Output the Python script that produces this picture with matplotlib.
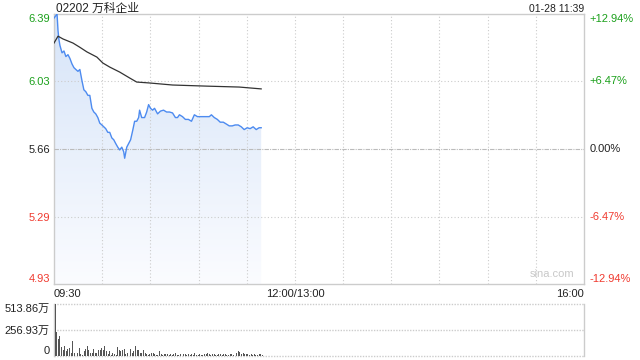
import numpy as np
import matplotlib
matplotlib.use('Agg')
import matplotlib.pyplot as plt
from matplotlib.colors import LinearSegmentedColormap

plt.rcParams['font.family'] = ['Liberation Sans', 'Noto Sans CJK SC', 'DejaVu Sans']

# --- data (trading minutes since 09:30) ---
price_t = [0, 1.9, 2.5, 3.1, 3.7, 5, 6.2, 7.4, 8.7, 9.9, 11.2, 12.4, 13.6, 14.9, 16.1, 17.4,
           18.6, 19.8, 21.1, 22.3, 23.6, 24.8, 26.0, 27.3, 28.5, 29.8, 31, 32.2, 33.5, 34.7,
           36, 37.2, 38.4, 39.7, 40.9, 42.2, 43.4, 44, 45.3, 46.5, 47.7, 49, 50.2, 51.5,
           52.7, 53.3, 54.6, 56.4, 57.7, 58.9, 60.1, 61.4, 62.6, 64.5, 66.3, 68.2, 70.1,
           71.9, 73.8, 75.6, 76.9, 78.1, 80, 81.8, 83.7, 85.6, 87.4, 89.3, 91.1, 93, 94.9,
           96.7, 98, 99.8, 101.7, 103.5, 105.4, 107.3, 109.1, 111, 112.8, 114.7, 116.6,
           118.4, 120.3, 122.1, 124, 125.9, 127.7, 129]
price = [6.368, 6.39, 6.30, 6.25, 6.22, 6.18, 6.19, 6.16, 6.17, 6.15, 6.12, 6.10, 6.09, 6.08,
         6.09, 6.03, 5.98, 5.97, 5.95, 5.95, 5.88, 5.86, 5.85, 5.83, 5.80, 5.79, 5.78, 5.77,
         5.75, 5.75, 5.72, 5.71, 5.69, 5.67, 5.655, 5.67, 5.645, 5.61, 5.67, 5.69, 5.71,
         5.76, 5.81, 5.81, 5.83, 5.87, 5.83, 5.83, 5.86, 5.90, 5.88, 5.87, 5.88, 5.85,
         5.865, 5.87, 5.86, 5.86, 5.855, 5.83, 5.83, 5.845, 5.835, 5.82, 5.82, 5.81, 5.845,
         5.835, 5.835, 5.835, 5.835, 5.835, 5.845, 5.83, 5.82, 5.805, 5.805, 5.795, 5.785,
         5.785, 5.79, 5.79, 5.78, 5.765, 5.775, 5.77, 5.78, 5.765, 5.775, 5.775]

avg_t = [0, 2.5, 5.6, 11.8, 16.1, 20.5, 26.7, 30.4, 34.7, 40.9, 47.1, 51.5, 59.5, 73.8,
         94.9, 115.3, 129]
avg_price = [6.233, 6.27, 6.255, 6.233, 6.21, 6.185, 6.157, 6.125, 6.103, 6.076, 6.044,
             6.022, 6.017, 6.006, 6.0, 5.995, 5.985]

# volume in 万 shares, one bar per minute
volume = [514, 233, 171, 199, 89, 62, 96, 45, 69, 79,
          27, 147, 34, 21, 27, 79, 21, 10, 45, 69,
          96, 62, 27, 34, 69, 34, 34, 62, 62, 79,
          55, 96, 45, 21, 45, 10, 27, 21, 10, 89,
          55, 45, 62, 69, 21, 27, 55, 69, 34, 45,
          96, 62, 55, 27, 34, 62, 34, 21, 10, 21,
          34, 27, 21, 10, 10, 45, 21, 10, 21, 21,
          15, 8, 20, 12, 18, 25, 10, 14, 20, 8,
          16, 22, 12, 18, 10, 20, 14, 25, 12, 9,
          18, 14, 10, 22, 16, 34, 20, 12, 15, 18,
          10, 14, 20, 16, 12, 22, 18, 10, 14, 16,
          20, 12, 25, 30, 45, 38, 20, 28, 15, 22,
          18, 12, 16, 10, 20, 14, 12, 18, 15, 10]

prev_close = 5.66
price_ticks = [6.39, 6.03, 5.66, 5.29, 4.93]
pct_labels = ['+12.94%', '+6.47%', '0.00%', '-6.47%', '-12.94%']
vol_ticks = [513.86, 256.93, 0]
vol_labels = ['513.86万', '256.93万', '0']
total_minutes = 330

green = '#1ba01b'
red = '#f03a2f'
grid_c = '#cccccc'
spine_c = '#cccccc'

fig = plt.figure(figsize=(6.4, 3.6), dpi=100)
ax = fig.add_axes([54 / 640, 1 - 284 / 360, 530 / 640, 270 / 360])
axv = fig.add_axes([54 / 640, 1 - 356 / 360, 530 / 640, 52 / 360])

# --- price panel ---
ax.set_xlim(0, total_minutes)
ax.set_ylim(price_ticks[-1], price_ticks[0])

for m in range(30, total_minutes, 30):
    ax.axvline(m, color=grid_c, lw=0.8, ls=(0, (1, 2)), zorder=3)
for v in (price_ticks[1], price_ticks[3]):
    ax.axhline(v, color=grid_c, lw=0.8, ls=(0, (1, 2)), zorder=3)
ax.axhline(prev_close, color='#bbbbbb', lw=0.8, ls=(0, (4, 1, 1, 1)), zorder=3)

# gradient fill under the price line
poly = ax.fill_between(price_t, price, price_ticks[-1], color='none', lw=0)
cmap = LinearSegmentedColormap.from_list('fill', ['#fbfcff', '#d6e4f8'])
grad = ax.imshow(np.linspace(0, 1, 256).reshape(-1, 1), cmap=cmap, aspect='auto',
                 extent=[0, total_minutes, price_ticks[-1], price_ticks[0]],
                 origin='lower', zorder=2)
grad.set_clip_path(poly.get_paths()[0], transform=ax.transData)

ax.plot(price_t, price, color='#4d8bf0', lw=1.0, zorder=4)
ax.plot(avg_t, avg_price, color='#333333', lw=0.9, zorder=4)

ax.set_xticks([])
ax.set_yticks(price_ticks)
ax.set_yticklabels([f'{v:.2f}' for v in price_ticks], fontsize=8)
ax.tick_params(axis='y', length=0, pad=3)
left_colors = [green, green, '#222222', red, red]
for lab, c in zip(ax.get_yticklabels(), left_colors):
    lab.set_color(c)
ax.get_yticklabels()[0].set_va('top')
ax.get_yticklabels()[-1].set_va('bottom')

for i, (v, s) in enumerate(zip(price_ticks, pct_labels)):
    va = 'top' if i == 0 else ('bottom' if i == len(price_ticks) - 1 else 'center')
    ax.text(1.01, v, s, transform=ax.get_yaxis_transform(), fontsize=8,
            color=left_colors[i], ha='left', va=va)

for sp in ax.spines.values():
    sp.set_color(spine_c)
    sp.set_linewidth(1)

ax.text(0.003, 1.006, '02202 万科企业', transform=ax.transAxes, fontsize=8.5,
        color='#222222', ha='left', va='baseline')
ax.text(1.0, 1.006, '01-28 11:39', transform=ax.transAxes, fontsize=7.5,
        color='#222222', ha='right', va='baseline')
ax.text(0.94, 0.02, 'sina.com', transform=ax.transAxes, fontsize=8,
        color='#c8c8c8', ha='center', va='bottom')

ax.text(0, -0.02, '09:30', transform=ax.transAxes, fontsize=8, color='#222222',
        ha='left', va='top')
ax.text(150 / total_minutes, -0.02, '12:00/13:00', transform=ax.transAxes, fontsize=8,
        color='#222222', ha='center', va='top')
ax.text(1.0, -0.02, '16:00', transform=ax.transAxes, fontsize=8, color='#222222',
        ha='right', va='top')

# --- volume panel ---
axv.set_xlim(0, total_minutes)
axv.set_ylim(0, vol_ticks[0])
axv.bar(np.arange(len(volume)) + 0.7, volume, width=0.6, color='#555555', zorder=3)
for v in vol_ticks:
    axv.axhline(v, color=grid_c, lw=1.0, ls=(0, (1, 1)), zorder=1, clip_on=False)
axv.set_xticks([])
axv.set_yticks(vol_ticks)
axv.set_yticklabels(vol_labels, fontsize=8, color='#222222')
axv.tick_params(axis='y', length=0, pad=3)
axv.get_yticklabels()[0].set_va('top')
axv.get_yticklabels()[-1].set_va('bottom')
axv.spines['top'].set_visible(False)
axv.spines['bottom'].set_visible(False)
for s in ('left', 'right'):
    axv.spines[s].set_color(spine_c)
    axv.spines[s].set_linewidth(1)

fig.savefig('out.png', dpi=100)
